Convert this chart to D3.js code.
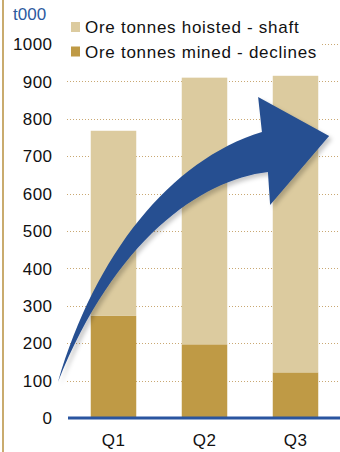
<!DOCTYPE html>
<html>
<head>
<meta charset="utf-8">
<script src="https://cdn.jsdelivr.net/npm/d3@7"></script>
<style>
html,body{margin:0;padding:0;background:#fff;}
svg{display:block;font-family:"Liberation Sans",Arial,sans-serif;}
</style>
</head>
<body>
<svg id="chart" width="340" height="452"></svg>
<script>
const categories = ["Q1", "Q2", "Q3"];
const shaftValues = [495, 713, 793];
const declineValues = [273, 197, 122];
const yTicks = [0, 100, 200, 300, 400, 500, 600, 700, 800, 900, 1000];
const seriesNames = ["Ore tonnes hoisted - shaft", "Ore tonnes mined - declines"];
const seriesColors = ["#dccb9f", "#bf9a45"];
const unitLabel = "t000";

const svg = d3.select("#chart");
const W = 340, H = 452;

const x = d3.scaleBand().domain(categories).range([68, 341]).paddingInner(0.5).paddingOuter(0.25);
const y = d3.scaleLinear().domain([0, 1000]).range([418, 44]);

// left border line
svg.append("line").attr("x1", 3).attr("x2", 3).attr("y1", 0).attr("y2", H)
  .attr("stroke", "#c9ab6e").attr("stroke-width", 2);

// gridlines
svg.append("g").selectAll("line").data(yTicks.filter(d => d > 0)).join("line")
  .attr("x1", 67).attr("x2", W).attr("y1", d => Math.round(y(d)) + 0.5).attr("y2", d => Math.round(y(d)) + 0.5)
  .attr("stroke", "#c9a872").attr("stroke-width", 1).attr("stroke-dasharray", "1,2");

// y tick labels
svg.append("g").selectAll("text").data(yTicks).join("text")
  .attr("x", 52.5).attr("y", d => y(d)).attr("dy", "0.36em")
  .attr("text-anchor", "end").attr("font-size", 17).attr("letter-spacing", 0.45).attr("fill", "#111")
  .text(d => d);

// unit label
svg.append("text").attr("x", 13).attr("y", 20).attr("font-size", 17).attr("fill", "#2c5aa0").text(unitLabel);

// stacked bars
const rows = categories.map((c, i) => ({cat: c, declines: declineValues[i], shaft: shaftValues[i]}));
const stack = d3.stack().keys(["declines", "shaft"]);
const layers = stack(rows);
const colorByKey = {declines: seriesColors[1], shaft: seriesColors[0]};
svg.append("g").selectAll("g").data(layers).join("g")
  .attr("fill", d => colorByKey[d.key])
  .selectAll("rect").data(d => d).join("rect")
  .attr("x", d => x(d.data.cat)).attr("width", x.bandwidth())
  .attr("y", d => y(d[1])).attr("height", d => y(d[0]) - y(d[1]));

// legend with white background
const lg = svg.append("g");
lg.append("rect").attr("x", 66).attr("y", 12).attr("width", 256).attr("height", 54).attr("fill", "#fff");
seriesNames.forEach((name, i) => {
  const yy = 27 + i * 24.5;
  lg.append("rect").attr("x", 71).attr("y", yy - 5).attr("width", 9).attr("height", 10).attr("fill", seriesColors[i]);
  lg.append("text").attr("x", 85).attr("y", yy).attr("dy", "0.36em").attr("font-size", 17)
    .attr("letter-spacing", 0.72).attr("fill", "#111").text(name);
});

// decorative arrow (positioned via scales)
const px = f => 68 + f * 272; // fraction of plot width
const defs = svg.append("defs");
const flt = defs.append("filter").attr("id", "sh").attr("x", "-20%").attr("y", "-20%").attr("width", "140%").attr("height", "140%");
flt.append("feDropShadow").attr("dx", 3).attr("dy", 3).attr("stdDeviation", 2).attr("flood-color", "#000").attr("flood-opacity", 0.22);
const P = (f, v) => [px(f), y(v)];
const tail = P(-0.0368, 96.3), up1 = P(0.0993, 435.8), up2 = P(0.375, 689.8), upEnd = P(0.713, 764.7);
const hTop = P(0.699, 858.3), tip = P(0.96, 754), hBot = P(0.743, 569.5), loEnd = P(0.735, 657.8);
const lo1 = P(0.485, 636.4), lo2 = P(0.173, 475.9);
const arrow = d3.path();
arrow.moveTo(...tail);
arrow.bezierCurveTo(...up1, ...up2, ...upEnd);
arrow.lineTo(...hTop);
arrow.lineTo(...tip);
arrow.lineTo(...hBot);
arrow.lineTo(...loEnd);
arrow.bezierCurveTo(...lo1, ...lo2, ...tail);
arrow.closePath();
svg.append("path").attr("d", arrow.toString()).attr("fill", "#264f91").attr("filter", "url(#sh)");

// bottom axis line
svg.append("line").attr("x1", 68).attr("x2", W).attr("y1", y(0)).attr("y2", y(0))
  .attr("stroke", "#2a55a0").attr("stroke-width", 3);

// x labels
svg.append("g").selectAll("text").data(categories).join("text")
  .attr("x", d => x(d) + x.bandwidth() / 2).attr("y", 440).attr("dy", "0.36em")
  .attr("text-anchor", "middle").attr("font-size", 17).attr("letter-spacing", 0.45).attr("fill", "#111").text(d => d);
</script>
</body>
</html>
